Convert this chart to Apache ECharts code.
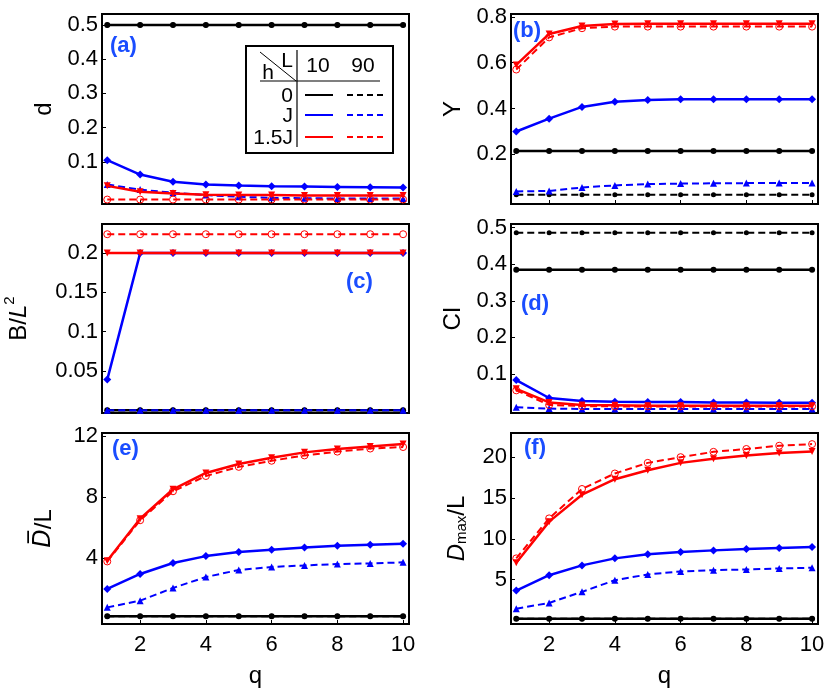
<!DOCTYPE html>
<html>
<head>
<meta charset="utf-8">
<script src="https://cdn.jsdelivr.net/npm/echarts@6/dist/echarts.min.js"></script>
<style>
    html, body { margin: 0; padding: 0; background: #fff; }
    #main { width: 831px; height: 698px; }
</style>
</head>
<body>
<div id="main"></div>
<script type="text/javascript">
    // q values (x axis) and tick labels
    var q = [1, 2, 3, 4, 5, 6, 7, 8, 9, 10];
    var qTicks = [2, 4, 6, 8, 10];

    // (a) d
    var aTicks = [0.1, 0.2, 0.3, 0.4, 0.5];
    var aBlack10 = [0.5, 0.5, 0.5, 0.5, 0.5, 0.5, 0.5, 0.5, 0.5, 0.5];
    var aBlack90 = [0.5, 0.5, 0.5, 0.5, 0.5, 0.5, 0.5, 0.5, 0.5, 0.5];
    var aBlue10 = [0.105, 0.063, 0.042, 0.034, 0.031, 0.029, 0.028, 0.027, 0.026, 0.025];
    var aBlue90 = [0.034, 0.019, 0.010, 0.003, -0.002, -0.005, -0.006, -0.007, -0.007, -0.007];
    var aRed10 = [0.030, 0.013, 0.008, 0.004, 0.003, 0.003, 0.002, 0.002, 0.002, 0.002];
    var aRed90 = [-0.010, -0.010, -0.010, -0.010, -0.010, -0.010, -0.010, -0.010, -0.010, -0.010];

    // (b) Y
    var bTicks = [0.2, 0.4, 0.6, 0.8];
    var bBlack10 = [0.215, 0.215, 0.215, 0.215, 0.215, 0.215, 0.215, 0.215, 0.215, 0.215];
    var bBlack90 = [0.024, 0.024, 0.024, 0.024, 0.024, 0.024, 0.024, 0.024, 0.024, 0.024];
    var bBlue10 = [0.30, 0.356, 0.407, 0.43, 0.437, 0.44, 0.44, 0.44, 0.44, 0.44];
    var bBlue90 = [0.039, 0.041, 0.056, 0.065, 0.071, 0.073, 0.074, 0.075, 0.075, 0.075];
    var bRed10 = [0.59, 0.725, 0.76, 0.768, 0.77, 0.77, 0.77, 0.77, 0.77, 0.77];
    var bRed90 = [0.57, 0.71, 0.75, 0.757, 0.757, 0.757, 0.757, 0.757, 0.757, 0.757];

    // (c) B/L^2
    var cTicks = [0.05, 0.1, 0.15, 0.2];
    var cBlack10 = [0, 0, 0, 0, 0, 0, 0, 0, 0, 0];
    var cBlack90 = [0, 0, 0, 0, 0, 0, 0, 0, 0, 0];
    var cBlue10 = [0.039, 0.2, 0.2, 0.2, 0.2, 0.2, 0.2, 0.2, 0.2, 0.2];
    var cBlue90 = [0, 0, 0, 0, 0, 0, 0, 0, 0, 0];
    var cRed10 = [0.2, 0.2, 0.2, 0.2, 0.2, 0.2, 0.2, 0.2, 0.2, 0.2];
    var cRed90 = [0.224, 0.224, 0.224, 0.224, 0.224, 0.224, 0.224, 0.224, 0.224, 0.224];

    // (d) CI
    var dTicks = [0.1, 0.2, 0.3, 0.4, 0.5];
    var dBlack10 = [0.385, 0.385, 0.385, 0.385, 0.385, 0.385, 0.385, 0.385, 0.385, 0.385];
    var dBlack90 = [0.486, 0.486, 0.486, 0.486, 0.486, 0.486, 0.486, 0.486, 0.486, 0.486];
    var dBlue10 = [0.083, 0.034, 0.026, 0.024, 0.023, 0.023, 0.022, 0.022, 0.021, 0.021];
    var dBlue90 = [0.009, 0.005, 0.004, 0.004, 0.004, 0.004, 0.004, 0.004, 0.004, 0.004];
    var dRed10 = [0.059, 0.022, 0.015, 0.014, 0.013, 0.013, 0.013, 0.013, 0.013, 0.013];
    var dRed90 = [0.055, 0.015, 0.012, 0.011, 0.011, 0.011, 0.011, 0.011, 0.011, 0.011];

    // (e) mean D / L
    var eTicks = [4, 8, 12];
    var eBlack10 = [0.2, 0.2, 0.2, 0.2, 0.2, 0.2, 0.2, 0.2, 0.2, 0.2];
    var eBlack90 = [0.2, 0.2, 0.2, 0.2, 0.2, 0.2, 0.2, 0.2, 0.2, 0.2];
    var eBlue10 = [2.0, 2.98, 3.7, 4.15, 4.42, 4.57, 4.72, 4.83, 4.9, 4.96];
    var eBlue90 = [0.79, 1.23, 2.06, 2.78, 3.24, 3.44, 3.54, 3.63, 3.67, 3.74];
    var eRed10 = [3.85, 6.6, 8.53, 9.6, 10.19, 10.6, 10.95, 11.17, 11.34, 11.5];
    var eRed90 = [3.8, 6.5, 8.4, 9.4, 10.0, 10.4, 10.75, 11.0, 11.2, 11.3];

    // (f) Dmax / L
    var fTicks = [5, 10, 15, 20];
    var fBlack10 = [0.2, 0.2, 0.2, 0.2, 0.2, 0.2, 0.2, 0.2, 0.2, 0.2];
    var fBlack90 = [0.2, 0.2, 0.2, 0.2, 0.2, 0.2, 0.2, 0.2, 0.2, 0.2];
    var fBlue10 = [3.66, 5.54, 6.74, 7.6, 8.1, 8.38, 8.58, 8.74, 8.87, 8.99];
    var fBlue90 = [1.44, 2.14, 3.5, 4.93, 5.63, 6.0, 6.16, 6.24, 6.37, 6.45];
    var fRed10 = [7.07, 12.1, 15.4, 17.3, 18.4, 19.3, 19.8, 20.2, 20.5, 20.7];
    var fRed90 = [7.6, 12.5, 16.1, 18.0, 19.3, 20.0, 20.65, 21.0, 21.4, 21.6];

    var FONT = 'Liberation Sans';
    var BLACK = '#000000', BLUE = '#0000ff', RED = '#ff0000', LABEL = '#1a4dff';

    var panels = [
        {ticks: aTicks, min: -0.023, max: 0.532, name: 'd', gap: 46,
            data: [aBlack10, aBlack90, aBlue10, aBlue90, aRed10, aRed90]},
        {ticks: bTicks, min: -0.016, max: 0.812, name: 'Y', gap: 46,
            data: [bBlack10, bBlack90, bBlue10, bBlue90, bRed10, bRed90]},
        {ticks: cTicks, min: -0.0035, max: 0.237, name: '{n|B/}{i|L}{s|2}', gap: 66,
            data: [cBlack10, cBlack90, cBlue10, cBlue90, cRed10, cRed90]},
        {ticks: dTicks, min: -0.007, max: 0.51, name: 'CI', gap: 46,
            data: [dBlack10, dBlack90, dBlue10, dBlue90, dRed10, dRed90]},
        {ticks: eTicks, min: -0.3, max: 12.22, name: '{o|D\u0305}{n|/L}', gap: 46,
            data: [eBlack10, eBlack90, eBlue10, eBlue90, eRed10, eRed90]},
        {ticks: fTicks, min: -0.44, max: 22.96, name: '{i|D}{b|max}{n|/L}', gap: 42,
            data: [fBlack10, fBlack90, fBlue10, fBlue90, fRed10, fRed90]}
    ];

    var grids = [
        {left: 102, top: 14, width: 307, height: 190},
        {left: 511, top: 14, width: 307, height: 190},
        {left: 102, top: 224, width: 307, height: 189},
        {left: 511, top: 224, width: 307, height: 189},
        {left: 102, top: 433, width: 307, height: 191},
        {left: 511, top: 433, width: 307, height: 191}
    ];

    // series styles: h=0 black, h=J blue, h=1.5J red; L=10 solid, L=90 dashed
    var styles = [
        {color: BLACK, dash: false, symbol: 'circle', size: 6},
        {color: BLACK, dash: true, symbol: 'circle', size: 5},
        {color: BLUE, dash: false, symbol: 'diamond', size: 8},
        {color: BLUE, dash: true, symbol: 'triangle', size: 7},
        {color: RED, dash: false, symbol: 'triangle', size: 7, rotate: 180},
        {color: RED, dash: true, symbol: 'circle', size: 7, open: true}
    ];

    var rich = {
        n: {fontSize: 24, fontFamily: FONT, color: BLACK},
        i: {fontSize: 24, fontFamily: FONT, fontStyle: 'italic', color: BLACK},
        s: {fontSize: 15, fontFamily: FONT, color: BLACK, verticalAlign: 'top', lineHeight: 34},
        b: {fontSize: 15, fontFamily: FONT, color: BLACK, verticalAlign: 'bottom', lineHeight: 22},
        o: {fontSize: 24, fontFamily: 'DejaVu Sans', fontStyle: 'italic', color: BLACK}
    };

    var xAxes = [], yAxes = [], series = [];
    panels.forEach(function (p, k) {
        var bottom = k >= 4;
        xAxes.push({
            type: 'value', gridIndex: k, min: 0.84, max: 10.18,
            axisLine: {show: true, onZero: false, lineStyle: {color: BLACK, width: 2}},
            axisTick: {show: true, inside: true, length: 4, customValues: qTicks, lineStyle: {color: BLACK}},
            axisLabel: {show: bottom, customValues: qTicks, fontSize: 22, fontFamily: FONT, color: BLACK, margin: 10},
            splitLine: {show: false},
            name: bottom ? 'q' : '', nameLocation: 'middle', nameGap: 40,
            nameTextStyle: {fontSize: 24, fontFamily: FONT, color: BLACK}
        });
        yAxes.push({
            type: 'value', gridIndex: k, min: p.min, max: p.max,
            axisLine: {show: true, onZero: false, lineStyle: {color: BLACK, width: 2}},
            axisTick: {show: true, inside: true, length: 4, customValues: p.ticks, lineStyle: {color: BLACK}},
            axisLabel: {customValues: p.ticks, fontSize: 22, fontFamily: FONT, color: BLACK, margin: 4},
            splitLine: {show: false},
            name: p.name, nameLocation: 'middle', nameGap: p.gap, nameRotate: 90,
            nameTextStyle: {fontSize: 24, fontFamily: FONT, color: BLACK, rich: rich}
        });
        p.data.forEach(function (arr, j) {
            var st = styles[j];
            series.push({
                type: 'line', xAxisIndex: k, yAxisIndex: k,
                data: q.map(function (x, i) { return [x, arr[i]]; }),
                symbol: st.symbol, symbolSize: st.size, symbolRotate: st.rotate || 0,
                showAllSymbol: true, animation: false, silent: true,
                lineStyle: {color: st.color, width: st.dash ? 2 : 2.5, type: st.dash ? [7, 4] : 'solid'},
                itemStyle: st.open
                    ? {color: 'rgba(255,255,255,0)', borderColor: st.color, borderWidth: 1}
                    : {color: st.color},
                z: 2 + j
            });
        });
    });

    // panel tags and the h/L legend table in panel (a)
    function txt(s, x, y, opt) {
        opt = opt || {};
        return {
            type: 'text', x: x, y: y, z: 100,
            style: {
                text: s, fill: opt.fill || BLACK, align: opt.align || 'center', verticalAlign: 'middle',
                font: (opt.bold ? 'bold ' : '') + (opt.size || 21) + 'px ' + FONT
            }
        };
    }
    function seg(x1, y1, x2, y2, color, dash, w) {
        return {
            type: 'line', z: 100,
            shape: {x1: x1, y1: y1, x2: x2, y2: y2},
            style: {stroke: color, lineWidth: w || 2, lineDash: dash ? [6, 4] : null}
        };
    }
    var tags = [
        txt('(a)', 110, 46, {fill: LABEL, bold: true, size: 22, align: 'left'}),
        txt('(b)', 513, 31, {fill: LABEL, bold: true, size: 22, align: 'left'}),
        txt('(c)', 346, 282, {fill: LABEL, bold: true, size: 22, align: 'left'}),
        txt('(d)', 521, 304, {fill: LABEL, bold: true, size: 22, align: 'left'}),
        txt('(e)', 112, 449, {fill: LABEL, bold: true, size: 22, align: 'left'}),
        txt('(f)', 524, 448, {fill: LABEL, bold: true, size: 22, align: 'left'})
    ];
    var legend = [
        {type: 'rect', z: 99, shape: {x: 246, y: 46, width: 147, height: 107},
            style: {fill: '#fff', stroke: BLACK, lineWidth: 2}},
        seg(260, 52, 296, 81, BLACK, false, 1),
        seg(297, 50, 297, 147, BLACK, false, 1.2),
        seg(260, 81, 380, 81, BLACK, false, 1.2),
        txt('L', 287, 61), txt('h', 268, 73),
        txt('10', 318, 66), txt('90', 363, 66),
        txt('0', 293, 96, {align: 'right'}),
        txt('J', 293, 116, {align: 'right'}),
        txt('1.5J', 293, 138, {align: 'right'}),
        seg(305, 95, 333, 95, BLACK, false, 2),
        seg(347, 95, 387, 95, BLACK, true, 2),
        seg(305, 115, 333, 115, BLUE, false, 2),
        seg(347, 115, 387, 115, BLUE, true, 2),
        seg(305, 137, 333, 137, RED, false, 2),
        seg(347, 137, 387, 137, RED, true, 2)
    ];

    var myChart = echarts.init(document.getElementById('main'), null, {renderer: 'canvas'});
    myChart.setOption({
        backgroundColor: '#fff',
        animation: false,
        grid: grids.map(function (g) {
            return {left: g.left, top: g.top, width: g.width, height: g.height,
                show: true, borderColor: BLACK, borderWidth: 2, backgroundColor: 'rgba(0,0,0,0)'};
        }),
        xAxis: xAxes,
        yAxis: yAxes,
        series: series,
        graphic: tags.concat(legend)
    });
</script>
</body>
</html>
